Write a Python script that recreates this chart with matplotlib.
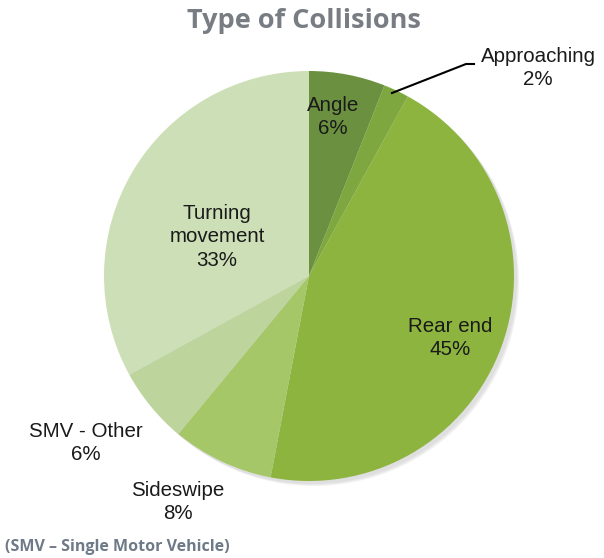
import matplotlib
matplotlib.use("Agg")
import matplotlib.pyplot as plt
from matplotlib.patches import Circle

categories = ["Angle", "Approaching", "Rear end", "Sideswipe", "SMV - Other", "Turning\nmovement"]
values = [6, 2, 45, 8, 6, 33]
colors = ["#6b9140", "#7ea83f", "#8db43f", "#a6c768", "#bdd49c", "#cddfb6"]

W, H = 604, 558
fig = plt.figure(figsize=(W / 100, H / 100), dpi=100)
ax = fig.add_axes([0, 0, 1, 1])

cx, cy, r = 309, H - 276, 205

# soft shadow
for i, a in enumerate([0.04, 0.04, 0.05]):
    ax.add_patch(Circle((cx + 3 + i, cy - 3 - i), r, color="black", alpha=a, lw=0, zorder=0))

wedges, _ = ax.pie(values, colors=colors, startangle=90, counterclock=False,
                   center=(cx, cy), radius=r, frame=True,
                   wedgeprops=dict(linewidth=0))
ax.set_xlim(0, W)
ax.set_ylim(0, H)
ax.set_aspect("equal")
ax.axis("off")

font = "Liberation Sans"
fs = 14.8
labels = [f"{c}\n{v}%" for c, v in zip(categories, values)]
positions = [(333, 117), (538, 68), (450, 338), (178, 502), (86, 443), (217, 237)]
for lab, (x, y) in zip(labels, positions):
    ax.text(x, H - y, lab, ha="center", va="center", fontsize=fs, family=font,
            color="#1a1a1a", linespacing=1.28, zorder=5)

# leader line for Approaching
ax.plot([392, 466, 474], [H - 93, H - 64, H - 64], color="black", lw=1.5, zorder=5)

ax.text(304, H - 21, "Type of Collisions", ha="center", va="center", fontsize=19.5,
        family="Open Sans", fontweight="bold", color="#787d84")
ax.text(5, H - 547, "(SMV \u2013 Single Motor Vehicle)", ha="left", va="center", fontsize=11.5,
        family="Open Sans", fontweight="bold", color="#6f7a88")

fig.savefig("out.png", dpi=100)
